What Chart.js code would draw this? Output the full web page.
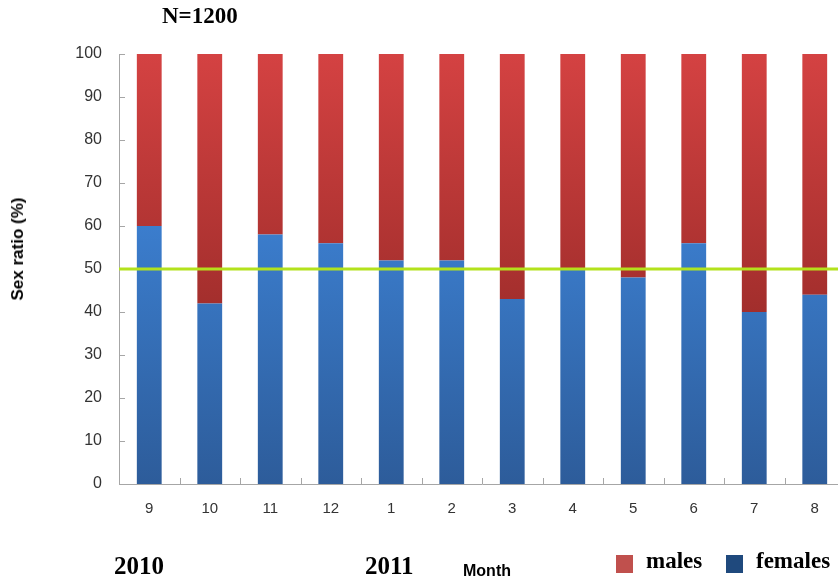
<!DOCTYPE html>
<html>
<head>
<meta charset="utf-8">
<script src="https://cdn.jsdelivr.net/npm/chart.js@4.4.0/dist/chart.umd.min.js"></script>
<style>
  html, body { margin: 0; padding: 0; background: #fff; overflow: hidden; }
  #wrap { position: relative; width: 838px; height: 582px; overflow: hidden; }
  #c { position: absolute; left: 0; top: 0; }
  .lbl { position: absolute; white-space: nowrap; color: #000; }
  .serif { font-family: "Liberation Serif", "DejaVu Serif", serif; font-weight: bold; }
  .sans { font-family: "Liberation Sans", Arial, sans-serif; font-weight: bold; }
  .sw { position: absolute; width: 17px; height: 18px; }
</style>
</head>
<body>
<div id="wrap">
  <canvas id="c" width="850" height="582"></canvas>
  <div class="lbl serif" style="left:162px; top:3px; font-size:23px;">N=1200</div>
  <div class="lbl sans" id="ytitle" style="font-size:17px; left:18px; top:249px; transform: translate(-50%,-50%) rotate(-90deg);">Sex ratio (%)</div>
  <div class="lbl serif" style="left:114px; top:552px; font-size:25px;">2010</div>
  <div class="lbl serif" style="left:365px; top:552px; font-size:25px;">2011</div>
  <div class="lbl sans" style="left:463px; top:562px; font-size:16px;">Month</div>
  <div class="sw" style="left:616px; top:555px; background:#c0504d;"></div>
  <div class="lbl serif" style="left:646px; top:548px; font-size:23px;">males</div>
  <div class="sw" style="left:726px; top:555px; background:#1f497d;"></div>
  <div class="lbl serif" style="left:756px; top:548px; font-size:23px;">females</div>
</div>
<script>
// ---- data ----
const months = ["9", "10", "11", "12", "1", "2", "3", "4", "5", "6", "7", "8"];
const females = [60, 42, 58, 56, 52, 52, 43, 50, 48, 56, 40, 44];
const males = [40, 58, 42, 44, 48, 48, 57, 50, 52, 44, 60, 56];
const referenceLevel = 50;
const yTicks = [0, 10, 20, 30, 40, 50, 60, 70, 80, 90, 100];

function grad(ctx, stops, fallback) {
  const ca = ctx.chart.chartArea;
  if (!ca) return fallback;
  const g = ctx.chart.ctx.createLinearGradient(0, ca.top, 0, ca.bottom);
  stops.forEach(s => g.addColorStop(s[0], s[1]));
  return g;
}

const innerTicks = {
  id: 'innerTicks',
  afterDatasetsDraw(chart) {
    const ctx = chart.ctx;
    const x = chart.scales.x, y = chart.scales.y;
    const ca = chart.chartArea;
    ctx.save();
    ctx.strokeStyle = '#a6a6a6';
    ctx.lineWidth = 1;
    ctx.beginPath();
    yTicks.forEach(v => {
      const py = Math.round(y.getPixelForValue(v)) + 0.5;
      ctx.moveTo(ca.left, py);
      ctx.lineTo(ca.left + 6, py);
    });
    for (let i = 0; i < months.length - 1; i++) {
      const px = Math.round((x.getPixelForValue(i) + x.getPixelForValue(i + 1)) / 2) + 0.5;
      ctx.moveTo(px, ca.bottom);
      ctx.lineTo(px, ca.bottom - 6);
    }
    ctx.stroke();
    // 50% reference line
    const py = y.getPixelForValue(referenceLevel);
    ctx.strokeStyle = '#b3e21c';
    ctx.lineWidth = 3;
    ctx.beginPath();
    ctx.moveTo(ca.left, py);
    ctx.lineTo(ca.right, py);
    ctx.stroke();
    ctx.restore();
  }
};

new Chart(document.getElementById('c'), {
  type: 'bar',
  data: {
    labels: months,
    datasets: [
      {
        label: 'females',
        data: females,
        backgroundColor: ctx => grad(ctx, [[0, '#4a8fe0'], [0.4, '#3b7dcd'], [1, '#2d5c9a']], '#3470b8'),
        borderWidth: 0,
        barPercentage: 0.41,
        categoryPercentage: 1
      },
      {
        label: 'males',
        data: males,
        backgroundColor: ctx => grad(ctx, [[0, '#d44242'], [0.6, '#a22e2c'], [1, '#8a2522']], '#c0504d'),
        borderWidth: 0,
        barPercentage: 0.41,
        categoryPercentage: 1
      }
    ]
  },
  options: {
    responsive: false,
    animation: false,
    layout: { padding: { left: 0, right: 5, top: 54, bottom: 0 } },
    plugins: {
      legend: { display: false },
      tooltip: { enabled: false }
    },
    scales: {
      x: {
        stacked: true,
        grid: { display: false, drawTicks: false },
        border: { display: true, color: '#a6a6a6', width: 1 },
        ticks: {
          color: '#333',
          font: { family: 'Liberation Sans', size: 15 },
          padding: 16,
          maxRotation: 0
        },
        afterFit: s => { s.height = 98; }
      },
      y: {
        stacked: true,
        min: 0,
        max: 100,
        grid: { display: false, drawTicks: false },
        border: { display: true, color: '#a6a6a6', width: 1 },
        ticks: {
          stepSize: 10,
          color: '#333',
          font: { family: 'Liberation Sans', size: 16 },
          padding: 17
        },
        afterFit: s => { s.width = 119; }
      }
    }
  },
  plugins: [innerTicks]
});
</script>
</body>
</html>
